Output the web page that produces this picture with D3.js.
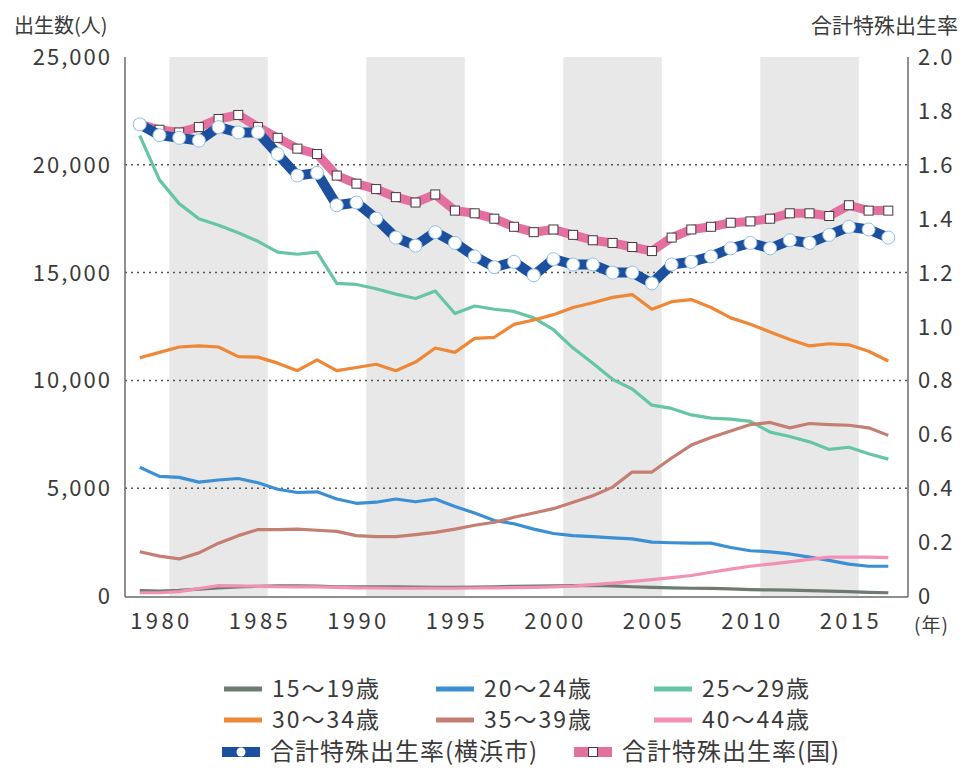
<!DOCTYPE html>
<html>
<head>
<meta charset="utf-8">
<script src="https://cdn.jsdelivr.net/npm/d3@7"></script>
<style>
  body { margin: 0; background: #fff; }
  svg text { font-family: "Noto Sans CJK JP", "Noto Sans", sans-serif; fill: #3a3a3a; }
</style>
</head>
<body>
<svg id="chart" width="963" height="772"></svg>
<script>
// 年
var years = [1979,1980,1981,1982,1983,1984,1985,1986,1987,1988,1989,1990,1991,1992,1993,1994,1995,1996,1997,1998,
             1999,2000,2001,2002,2003,2004,2005,2006,2007,2008,2009,2010,2011,2012,2013,2014,2015,2016,2017];

// 母の年齢別出生数（人）
var age15_19 = [250,230,260,320,380,420,450,470,470,460,430,420,430,420,410,400,400,410,430,450,
                460,470,480,490,470,430,400,380,360,350,330,300,280,270,250,230,200,170,150];
var age20_24 = [5970,5550,5500,5280,5380,5450,5250,4950,4800,4830,4500,4300,4350,4500,4370,4500,4150,3850,3500,3350,
                3100,2900,2800,2750,2700,2650,2500,2470,2450,2450,2250,2100,2050,1950,1800,1650,1480,1380,1380];
var age25_29 = [21350,19300,18200,17500,17200,16850,16450,15950,15850,15950,14500,14450,14250,14000,13800,14150,13100,13450,13300,13200,
                12900,12350,11500,10800,10050,9600,8850,8700,8400,8250,8200,8100,7600,7400,7150,6800,6900,6600,6350];
var age30_34 = [11050,11300,11550,11600,11550,11100,11080,10800,10450,10950,10450,10600,10750,10450,10850,11500,11300,11950,12000,12600,
                12800,13050,13380,13600,13850,13980,13300,13650,13750,13380,12900,12600,12250,11900,11600,11700,11650,11350,10900];
var age35_39 = [2050,1850,1720,2000,2450,2800,3080,3080,3100,3050,3000,2800,2750,2750,2850,2950,3100,3280,3420,3650,
                3850,4050,4350,4650,5050,5750,5750,6400,7000,7350,7650,7950,8050,7800,8000,7950,7920,7800,7450];
var age40_44 = [150,150,200,350,480,470,450,430,420,420,400,380,370,360,360,360,360,370,380,390,
                400,420,460,530,600,680,760,850,950,1100,1250,1380,1480,1580,1700,1800,1800,1800,1780];

// 合計特殊出生率
var tfrYokohama = [1.75,1.71,1.70,1.69,1.74,1.72,1.72,1.64,1.56,1.57,1.45,1.46,1.40,1.33,1.30,1.35,1.31,1.26,1.22,1.24,
                   1.19,1.25,1.23,1.23,1.20,1.20,1.16,1.23,1.24,1.26,1.29,1.31,1.29,1.32,1.31,1.34,1.37,1.36,1.33];
var tfrJapan = [1.75,1.73,1.72,1.74,1.77,1.785,1.74,1.70,1.66,1.64,1.56,1.53,1.51,1.48,1.46,1.49,1.43,1.42,1.40,1.37,
                1.35,1.36,1.34,1.32,1.31,1.295,1.28,1.33,1.36,1.37,1.385,1.39,1.40,1.42,1.42,1.41,1.45,1.43,1.43];

var xTicks = [1980,1985,1990,1995,2000,2005,2010,2015];
var leftTicks = [0,5000,10000,15000,20000,25000];
var rightTicks = [0,0.2,0.4,0.6,0.8,1.0,1.2,1.4,1.6,1.8,2.0];
var gridTicks = [5000,10000,15000,20000];
var bands = [[1980.5,1985.5],[1990.5,1995.5],[2000.5,2005.5],[2010.5,2015.5]];

var ageSeries = [
  {name:"15～19歳", values:age15_19, color:"#6e7b70"},
  {name:"20～24歳", values:age20_24, color:"#3b8fd2"},
  {name:"25～29歳", values:age25_29, color:"#66c6a4"},
  {name:"30～34歳", values:age30_34, color:"#ee8736"},
  {name:"35～39歳", values:age35_39, color:"#c47e72"},
  {name:"40～44歳", values:age40_44, color:"#f290b6"}
];

var svg = d3.select("#chart");
var plotLeft = 125, plotRight = 908, plotTop = 57, plotBottom = 596;

var x = d3.scaleLinear().domain([1978.25, 2018]).range([plotLeft, plotRight]);
var yL = d3.scaleLinear().domain([0, 25000]).range([plotBottom, plotTop]);
var yR = d3.scaleLinear().domain([0, 2.0]).range([plotBottom, plotTop]);

// 背景の帯
svg.append("g").selectAll("rect")
  .data(bands).enter().append("rect")
  .attr("x", d => x(d[0]))
  .attr("width", d => x(d[1]) - x(d[0]))
  .attr("y", plotTop)
  .attr("height", plotBottom - plotTop)
  .attr("fill", "#e8e8e8");

// 点線
svg.append("g").selectAll("line")
  .data(gridTicks).enter().append("line")
  .attr("x1", plotLeft).attr("x2", plotRight)
  .attr("y1", d => yL(d)).attr("y2", d => yL(d))
  .attr("stroke", "#555").attr("stroke-width", 1.5)
  .attr("stroke-dasharray", "2,4");

// 軸線
var axisColor = "#6a6a6a";
svg.append("line").attr("x1", plotLeft).attr("x2", plotLeft).attr("y1", plotTop).attr("y2", plotBottom + 1)
  .attr("stroke", axisColor).attr("stroke-width", 1.5);
svg.append("line").attr("x1", plotRight).attr("x2", plotRight).attr("y1", plotTop).attr("y2", plotBottom + 1)
  .attr("stroke", axisColor).attr("stroke-width", 1.5);
svg.append("line").attr("x1", plotLeft).attr("x2", plotRight).attr("y1", plotBottom + 1).attr("y2", plotBottom + 1)
  .attr("stroke", axisColor).attr("stroke-width", 1.5);

// 年齢別の線
var lineL = d3.line().x((d, i) => x(years[i])).y(d => yL(d));
svg.append("g").selectAll("path")
  .data(ageSeries).enter().append("path")
  .attr("d", d => lineL(d.values))
  .attr("fill", "none")
  .attr("stroke", d => d.color)
  .attr("stroke-width", 3.2)
  .attr("stroke-linejoin", "round");

// 合計特殊出生率（国）
var lineR = d3.line().x((d, i) => x(years[i])).y(d => yR(d));
svg.append("path").attr("d", lineR(tfrJapan))
  .attr("fill", "none").attr("stroke", "#e4709f").attr("stroke-width", 9)
  .attr("stroke-linejoin", "round");
svg.append("g").selectAll("rect")
  .data(tfrJapan).enter().append("rect")
  .attr("x", (d, i) => x(years[i]) - 4.5)
  .attr("y", d => yR(d) - 4.5)
  .attr("width", 9).attr("height", 9)
  .attr("fill", "#fff").attr("stroke", "#4a3a44").attr("stroke-width", 1);

// 合計特殊出生率（横浜市）
svg.append("path").attr("d", lineR(tfrYokohama))
  .attr("fill", "none").attr("stroke", "#1c4f9e").attr("stroke-width", 10)
  .attr("stroke-linejoin", "round");
svg.append("g").selectAll("circle")
  .data(tfrYokohama).enter().append("circle")
  .attr("cx", (d, i) => x(years[i]))
  .attr("cy", d => yR(d))
  .attr("r", 6.5)
  .attr("fill", "#fff").attr("stroke", "#8fc0e8").attr("stroke-width", 1);

// 目盛りラベル
var fmt = d3.format(",");
svg.append("g").selectAll("text")
  .data(leftTicks).enter().append("text")
  .attr("x", 112).attr("y", d => yL(d) + 8)
  .attr("text-anchor", "end")
  .attr("font-size", 22).attr("letter-spacing", 2)
  .text(d => fmt(d));

svg.append("g").selectAll("text")
  .data(rightTicks).enter().append("text")
  .attr("x", 918).attr("y", d => yR(d) + 8)
  .attr("font-size", 22).attr("letter-spacing", 2)
  .text(d => d === 0 ? "0" : d.toFixed(1));

svg.append("g").selectAll("text")
  .data(xTicks).enter().append("text")
  .attr("x", d => x(d) + 2).attr("y", 629)
  .attr("text-anchor", "middle")
  .attr("font-size", 22).attr("letter-spacing", 3.4)
  .text(d => d);

svg.append("text").attr("x", 914).attr("y", 632)
  .attr("font-size", 19).attr("letter-spacing", 1).text("(年)");

svg.append("text").attr("x", 14).attr("y", 33).attr("font-size", 20).text("出生数(人)");
svg.append("text").attr("x", 958).attr("y", 33).attr("text-anchor", "end").attr("font-size", 21).text("合計特殊出生率");

// 凡例
var legendCols = [224, 436, 654];
var legendRows = [689, 720];
var lg = svg.append("g").selectAll("g")
  .data(ageSeries).enter().append("g")
  .attr("transform", (d, i) => "translate(" + legendCols[i % 3] + "," + legendRows[Math.floor(i / 3)] + ")");
lg.append("line").attr("x1", 0).attr("x2", 38).attr("y1", 0).attr("y2", 0)
  .attr("stroke", d => d.color).attr("stroke-width", 5);
lg.append("text").attr("x", 48).attr("y", 8).attr("font-size", 23).attr("letter-spacing", 2).text(d => d.name);

var tfrLegend = [
  {name:"合計特殊出生率(横浜市)", x:222, color:"#1c4f9e", mark:"circle"},
  {name:"合計特殊出生率(国)", x:574, color:"#e4709f", mark:"rect"}
];
var tl = svg.append("g").selectAll("g")
  .data(tfrLegend).enter().append("g")
  .attr("transform", d => "translate(" + d.x + ",752)");
tl.append("line").attr("x1", 0).attr("x2", 38).attr("y1", 0).attr("y2", 0)
  .attr("stroke", d => d.color).attr("stroke-width", 10);
tl.each(function(d) {
  var g = d3.select(this);
  if (d.mark === "circle") {
    g.append("circle").attr("cx", 19).attr("cy", 0).attr("r", 4.5).attr("fill", "#fff");
  } else {
    g.append("rect").attr("x", 14.5).attr("y", -4.5).attr("width", 9).attr("height", 9)
      .attr("fill", "#fff").attr("stroke", "#4a3a44").attr("stroke-width", 1);
  }
});
tl.append("text").attr("x", 48).attr("y", 8).attr("font-size", 24).attr("letter-spacing", 1).text(d => d.name);
</script>
</body>
</html>
